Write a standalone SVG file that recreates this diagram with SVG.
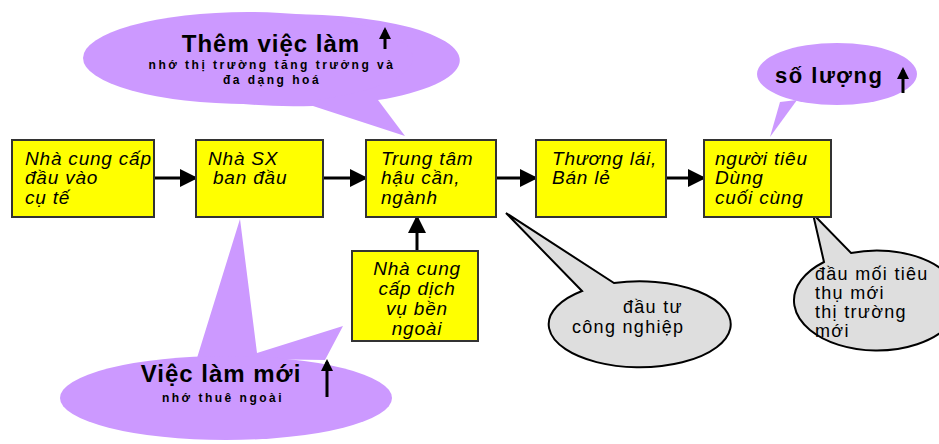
<svg xmlns="http://www.w3.org/2000/svg" width="939" height="444" viewBox="0 0 939 444">
<style>
.box{fill:#ffff00;stroke:#333;stroke-width:2}
.bt{font-family:"Liberation Sans",Arial,sans-serif;font-style:italic;font-size:19px;letter-spacing:0.8px;fill:#000}
.purple{fill:#cc99ff;stroke:none}
.gray{fill:#dedede;stroke:#000;stroke-width:2}
.big{font-family:"Liberation Sans",Arial,sans-serif;font-weight:bold;font-size:24px;letter-spacing:1px;fill:#000}
.small{font-family:"Liberation Sans",Arial,sans-serif;font-weight:bold;font-size:12px;fill:#000;letter-spacing:2.5px}
.gt{font-family:"Liberation Sans",Arial,sans-serif;font-size:18px;letter-spacing:1.3px;fill:#000}
.conn{stroke:#000;stroke-width:3;fill:none;marker-end:url(#ah)}
.up{stroke:#000;stroke-width:3;fill:none;marker-end:url(#uh)}
</style>
<defs>
<marker id="ah" markerWidth="6" markerHeight="6" refX="5" refY="3" orient="auto" markerUnits="strokeWidth">
<path d="M0,0 L6,3 L0,6 Z" fill="#000"/>
</marker>
<marker id="uh" markerWidth="4" markerHeight="4" refX="3" refY="2" orient="auto" markerUnits="strokeWidth">
<path d="M0,0 L4,2 L0,4 Z" fill="#000"/>
</marker>
</defs>
<rect width="939" height="444" fill="#fff"/>

<g id="callout-them-viec-lam">
<path class="purple" d="M313,106 L405,136 L378,100 A165,46 0 1 0 313,106 Z"/>
<ellipse class="purple" cx="248" cy="58" rx="165" ry="46"/>
<text class="big" x="271" y="52" text-anchor="middle">Thêm việc làm</text>
<line class="up" x1="385" y1="49" x2="385" y2="30"/>
<text class="small" x="272" y="69" text-anchor="middle">nhớ thị trường tăng trưởng và</text>
<text class="small" x="272" y="84" text-anchor="middle">đa dạng hoá</text>
</g>

<g id="callout-viec-lam-moi">
<path class="purple" d="M197,358 L240,219 L257,353 L343,326 L325,360 Z"/>
<ellipse class="purple" cx="226" cy="398" rx="166" ry="42"/>
<text class="big" x="221" y="382" text-anchor="middle">Việc làm mới</text>
<text class="small" x="223" y="402" text-anchor="middle">nhớ thuê ngoài</text>
<line class="up" x1="327" y1="397" x2="327" y2="362"/>
</g>

<g id="callout-so-luong">
<path class="purple" d="M780,102 L770,137 L797,100 Z"/>
<ellipse class="purple" cx="837" cy="74" rx="80" ry="31"/>
<text class="big" x="775" y="83" style="font-size:22px;letter-spacing:1.5px">số lượng</text>
<line class="up" x1="903" y1="93" x2="903" y2="70"/>
</g>

<g id="callout-dau-tu">
<path class="gray" d="M582,291 L506,213 L614,283 A91,43 0 1 1 582,291 Z"/>
<text class="gt" x="623" y="313">đầu tư</text>
<text class="gt" x="572" y="333">công nghiệp</text>
</g>

<g id="callout-dau-moi">
<path class="gray" d="M824,262 L813,214 L851,253 A83,50 0 1 1 824,262 Z"/>
<text class="gt" x="815" y="280">đầu mối tiêu</text>
<text class="gt" x="815" y="299">thụ mới</text>
<text class="gt" x="815" y="318">thị trường</text>
<text class="gt" x="815" y="337">mới</text>
</g>

<g id="connectors">
<line class="conn" x1="154" y1="178" x2="195" y2="178"/>
<line class="conn" x1="323" y1="178" x2="365" y2="178"/>
<line class="conn" x1="496" y1="178" x2="535" y2="178"/>
<line class="conn" x1="666" y1="178" x2="703" y2="178"/>
<line class="conn" x1="417" y1="251" x2="417" y2="218"/>
</g>

<g id="n1">
<rect class="box" x="12" y="140" width="142" height="77"/>
<text class="bt" x="25" y="165">Nhà cung cấp</text>
<text class="bt" x="25" y="184">đầu vào</text>
<text class="bt" x="25" y="204">cụ tế</text>
</g>
<g id="n2">
<rect class="box" x="196" y="140" width="127" height="77"/>
<text class="bt" x="208" y="165">Nhà SX</text>
<text class="bt" x="213" y="184">ban đầu</text>
</g>
<g id="n3">
<rect class="box" x="366" y="140" width="130" height="77"/>
<text class="bt" x="381" y="165">Trung tâm</text>
<text class="bt" x="381" y="184">hậu cần,</text>
<text class="bt" x="381" y="204">ngành</text>
</g>
<g id="n4">
<rect class="box" x="536" y="140" width="130" height="77"/>
<text class="bt" x="552" y="165">Thương lái,</text>
<text class="bt" x="552" y="184">Bán lẻ</text>
</g>
<g id="n5">
<rect class="box" x="704" y="140" width="127" height="77"/>
<text class="bt" x="715" y="165">người tiêu</text>
<text class="bt" x="715" y="184">Dùng</text>
<text class="bt" x="715" y="204">cuối cùng</text>
</g>
<g id="n6">
<rect class="box" x="352" y="251" width="126" height="90"/>
<text class="bt" x="417" y="275" text-anchor="middle">Nhà cung</text>
<text class="bt" x="417" y="295" text-anchor="middle">cấp dịch</text>
<text class="bt" x="417" y="315" text-anchor="middle">vụ bền</text>
<text class="bt" x="417" y="335" text-anchor="middle">ngoài</text>
</g>
</svg>
